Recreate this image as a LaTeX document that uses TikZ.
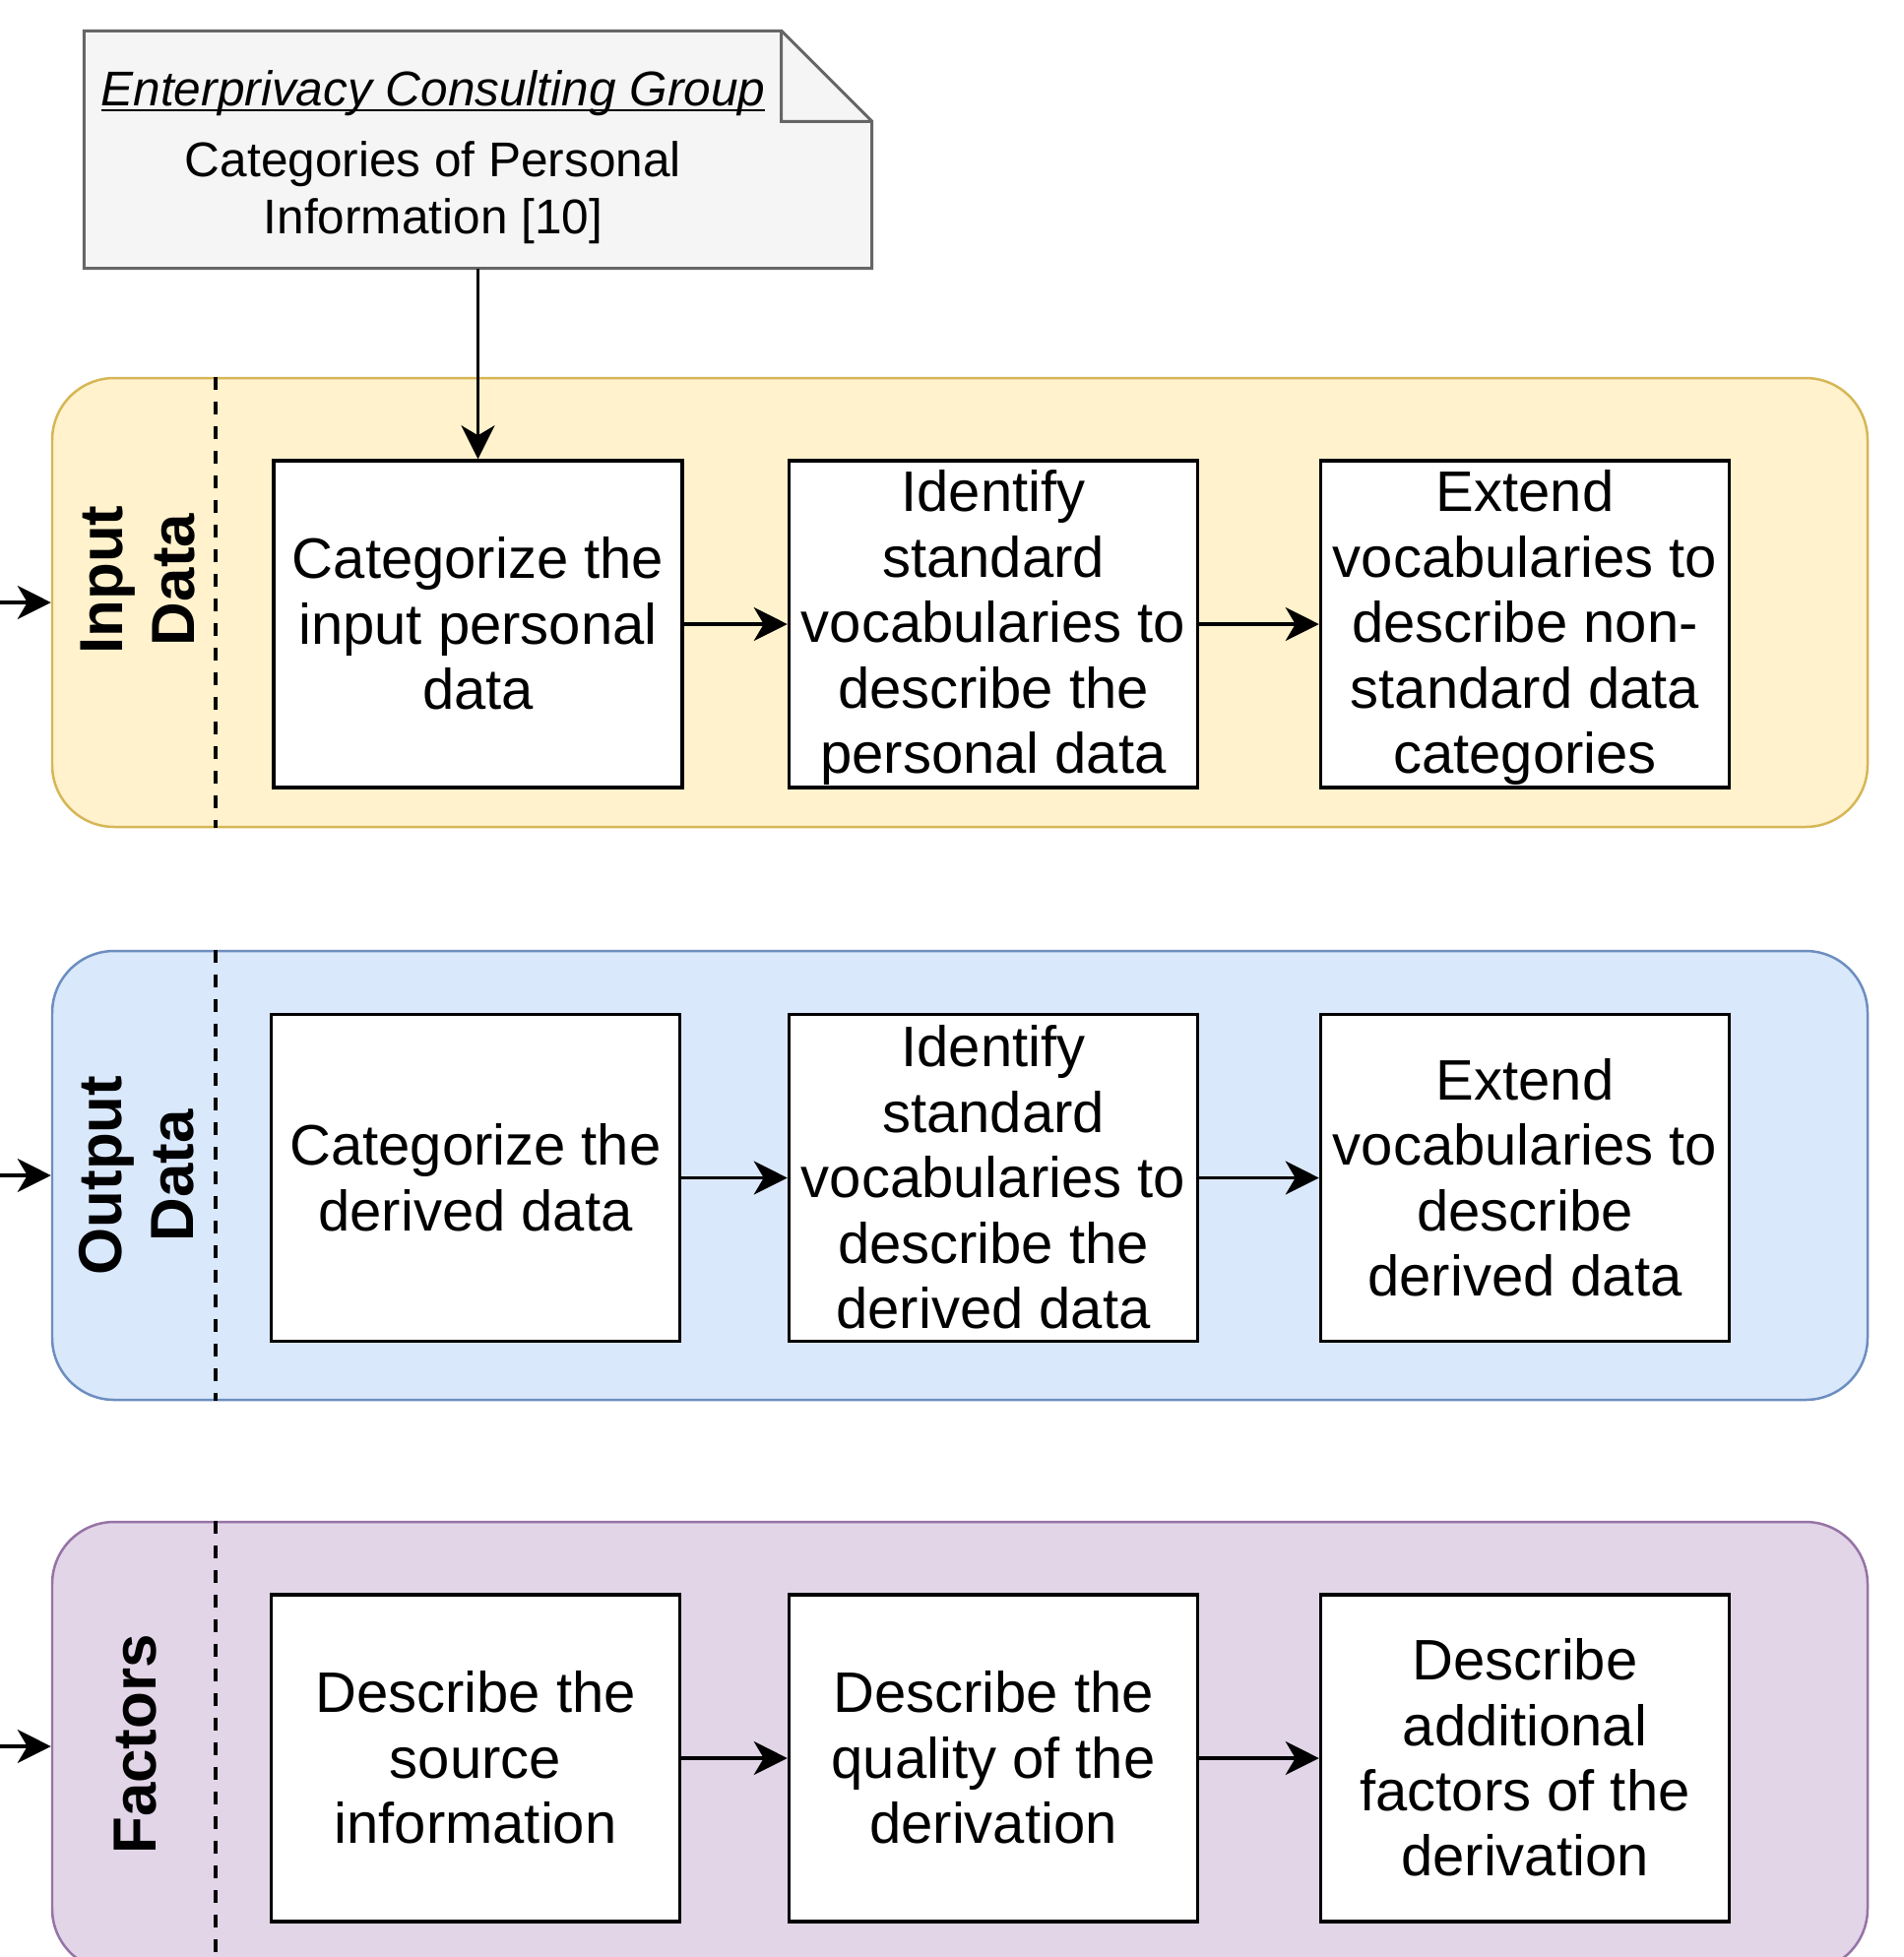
\documentclass[tikz,border=0pt]{standalone}
\usepackage{fontspec}
\setmainfont{Liberation Sans}
\usetikzlibrary{arrows.meta}

\definecolor{notefill}{HTML}{F5F5F5}
\definecolor{notedraw}{HTML}{666666}
\definecolor{inputfill}{HTML}{FFF2CC}
\definecolor{inputdraw}{HTML}{D6B656}
\definecolor{outputfill}{HTML}{DAE8FC}
\definecolor{outputdraw}{HTML}{6C8EBF}
\definecolor{factorfill}{HTML}{E1D5E7}
\definecolor{factordraw}{HTML}{9673A6}

\newcommand{\titleline}[1]{\setbox0\hbox{#1}\rlap{\rule[-1.6pt]{\wd0}{0.7pt}}\box0}
\newcommand{\tstrut}{\rule[-0.15em]{0pt}{1.0em}}

\tikzset{
  lane/.style={draw, rounded corners=0.63cm, line width=0.025cm, minimum width=18.44cm, minimum height=4.56cm, inner sep=0pt},
  lanelabel/.style={rotate=90, align=center, font=\fontsize{17.6}{20.8}\selectfont\bfseries},
  taskbox/.style={draw, fill=white, line width=0.035cm, minimum width=4.15cm, minimum height=3.32cm, align=center, inner sep=0pt, font=\fontsize{16.5}{18.9}\selectfont},
  flow/.style={-{Stealth[length=0.34cm,width=0.34cm,inset=0.1cm]}, line width=0.035cm},
  divider/.style={line width=0.035cm, dash pattern=on 0.13cm off 0.12cm},
}

\begin{document}
\begin{tikzpicture}
            \useasboundingbox (0,0) rectangle (19.33,-19.88);
            \clip (0,0) rectangle (19.33,-19.88);

            % Drawing note ecg
            \node [minimum width=7.99cm, minimum height=2.40cm, inner sep=0pt] (ecg) at (4.855,-1.52) {};
            \draw [notedraw, fill=notefill, line width=0.03cm] (ecg.north west) -- ([xshift=-0.92cm]ecg.north east) -- ([yshift=-0.92cm]ecg.north east) -- (ecg.south east) -- (ecg.south west) -- cycle;%
            \draw [notedraw, line width=0.03cm] ([xshift=-0.92cm]ecg.north east) -- ++(0,-0.92) -- ([yshift=-0.92cm]ecg.north east);%
            \node [font=\fontsize{14.1}{16.5}\selectfont] (ecgtitle) at (4.40,-0.95) {\titleline{\itshape Enterprivacy Consulting Group}};%
            \node [align=center, font=\fontsize{14.1}{16.6}\selectfont] (ecgbody) at (4.40,-1.96) {Categories of Personal\\Information [10]};%

            % Drawing lanes
            \node [lane, draw=inputdraw, fill=inputfill] (inlane) at (9.75,-6.12) {};%
            \node [lane, draw=outputdraw, fill=outputfill] (outlane) at (9.75,-11.94) {};%
            \node [lane, draw=factordraw, fill=factorfill] (faclane) at (9.75,-17.74) {};%

            % Drawing dividers
            \coordinate (divx) at (2.19,0);
            \draw [divider] (inlane.north -| divx) -- (inlane.south -| divx);%
            \draw [divider] (outlane.north -| divx) -- (outlane.south -| divx);%
            \draw [divider] (faclane.north -| divx) -- (faclane.south -| divx);%

            % Lane labels
            \node [lanelabel] (inlabel) at (1.40,-5.89) {Input\\Data};%
            \node [lanelabel] (outlabel) at (1.39,-11.94) {Output\\Data};%
            \node [lanelabel] (faclabel) at (1.38,-17.72) {Factors};%

            % Feeding arrows
            \coordinate (infeed) at (0,-6.12);
            \coordinate (outfeed) at (0,-11.94);
            \coordinate (facfeed) at (0,-17.74);
            \draw [flow] (infeed) -- (inlane.west);%
            \draw [flow] (outfeed) -- (outlane.west);%
            \draw [flow] (facfeed) -- (faclane.west);%

            % Drawing input row
            \node [taskbox] (catin) at (4.855,-6.34) {\tstrut Categorize the\\input personal\\data\tstrut};%
            \node [taskbox] (idin) at (10.09,-6.34) {\tstrut Identify\\standard\\vocabularies to\\describe the\\personal data\tstrut};%
            \node [taskbox] (extin) at (15.49,-6.34) {\tstrut Extend\\vocabularies to\\describe non-\\standard data\\categories\tstrut};%

            % Drawing output row
            \node [taskbox] (catout) at (4.83,-11.965) {\tstrut Categorize the\\derived data\tstrut};%
            \node [taskbox] (idout) at (10.09,-11.965) {\tstrut Identify\\standard\\vocabularies to\\describe the\\derived data\tstrut};%
            \node [taskbox] (extout) at (15.49,-11.965) {\tstrut Extend\\vocabularies to\\describe\\derived data\tstrut};%

            % Drawing factors row
            \node [taskbox] (source) at (4.83,-17.86) {\tstrut Describe the\\source\\information\tstrut};%
            \node [taskbox] (quality) at (10.09,-17.86) {\tstrut Describe the\\quality of the\\derivation\tstrut};%
            \node [taskbox] (extra) at (15.49,-17.86) {\tstrut Describe\\additional\\factors of the\\derivation\tstrut};%

            % Drawing arrows
            \draw [flow] (ecg.south) -- (catin.north);%
            \draw [flow] (catin) -- (idin);%
            \draw [flow] (idin) -- (extin);%
            \draw [flow] (catout) -- (idout);%
            \draw [flow] (idout) -- (extout);%
            \draw [flow] (source) -- (quality);%
            \draw [flow] (quality) -- (extra);%
        \end{tikzpicture}
\end{document}
